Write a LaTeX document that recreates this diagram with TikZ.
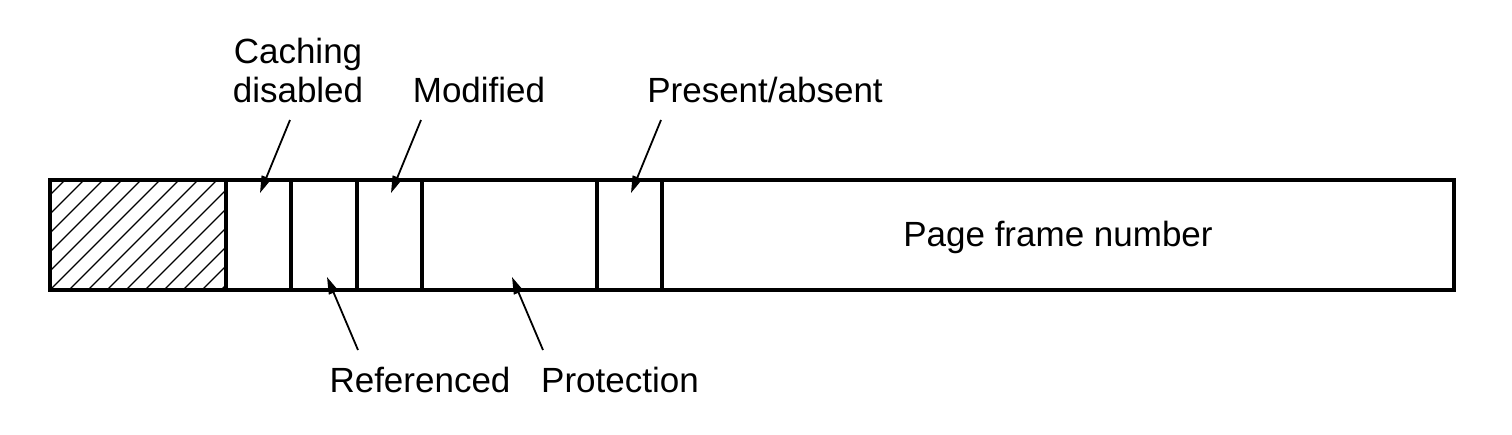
\documentclass[tikz,border=0pt]{standalone}
\usepackage{fontspec}
\setmainfont{Liberation Sans}
\usetikzlibrary{arrows.meta}
\begin{document}
\begin{tikzpicture}[x=1pt,y=-1pt,
  lbl/.style={font=\fontsize{35}{41}\selectfont, inner sep=0pt, anchor=base},
  ptr/.style={line width=1.8pt, -{Triangle[length=17pt,width=10pt]}}]
\useasboundingbox (0,0) rectangle (1512,434);
% hatched region
\begin{scope}
  \clip (50,180) rectangle (226,290);
  \foreach \i in {-6,...,16} {
    \draw[line width=1.4pt] (50+19*\i,290) -- ++(110,-110);
  }
\end{scope}
% cells
\draw[line width=3.2pt] (50,180) rectangle (1454,290);
\foreach \xx in {226,291,357,422,597,662} {
  \draw[line width=3.2pt] (\xx,180) -- (\xx,290);
}
\node[lbl] (pfn) at (1058,246) {Page frame number};
% labels
\node[lbl] (cach1) at (298,63) {Caching};
\node[lbl] (cach2) at (298,102) {disabled};
\node[lbl] (mod) at (479,102) {Modified};
\node[lbl] (pres) at (765,102) {Present/absent};
\node[lbl] (ref) at (420,392) {Referenced};
\node[lbl] (prot) at (620,392) {Protection};
% arrow coordinates
\coordinate (cT) at (290,120); \coordinate (cH) at (260,193);
\coordinate (mT) at (421,120); \coordinate (mH) at (391,193);
\coordinate (pT) at (661,120); \coordinate (pH) at (631,193);
\coordinate (rT) at (358,350); \coordinate (rH) at (327,277);
\coordinate (qT) at (543,350); \coordinate (qH) at (512,277);
\draw[ptr] (cT) -- (cH);
\draw[ptr] (mT) -- (mH);
\draw[ptr] (pT) -- (pH);
\draw[ptr] (rT) -- (rH);
\draw[ptr] (qT) -- (qH);
\end{tikzpicture}
\end{document}
